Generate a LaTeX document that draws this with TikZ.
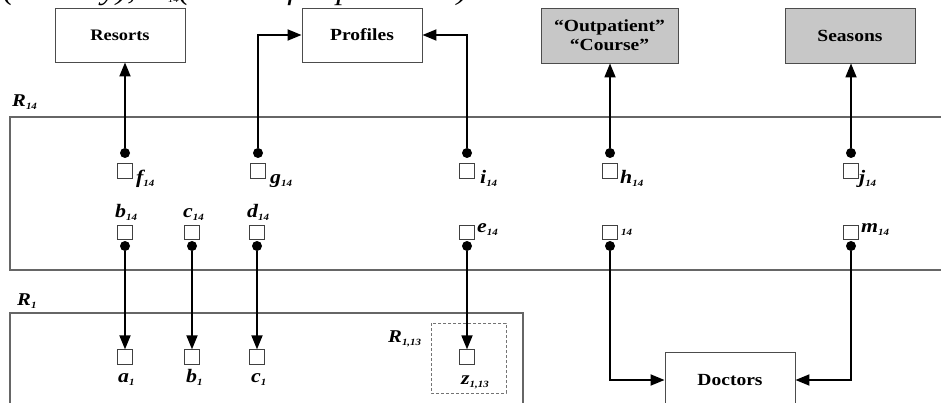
\documentclass[tikz,border=0pt]{standalone}
\usepackage{fontspec}
\setmainfont{Liberation Serif}[FakeStretch=1.15]
\usetikzlibrary{arrows.meta}
\newcommand\sbs[1]{\raisebox{-3pt}{\fontsize{9.5}{9.5}\selectfont #1}}
\tikzset{
  ent/.style={draw=black!70, line width=0.9pt, font=\fontsize{17}{19}\selectfont\bfseries,
    minimum width=130pt, minimum height=54pt, inner sep=0pt, align=center},
  grayent/.style={ent, fill=black!22},
  sq/.style={draw=black!75, line width=0.8pt, minimum size=14.5pt, inner sep=0pt},
  dotn/.style={circle, fill=black, minimum size=10pt, inner sep=0pt},
  conn/.style={line width=1.8pt, -{Triangle[length=14pt,width=11pt]}},
  lab/.style={font=\fontsize{19}{19}\selectfont\bfseries\itshape, inner sep=0pt, anchor=base west},
  rlab/.style={lab, font=\fontsize{18}{18}\selectfont\bfseries\itshape},
  band/.style={draw=black!60, line width=1.1pt},
  dashbox/.style={draw=black!55, line width=0.9pt, dash pattern=on 3pt off 2pt}
}
\begin{document}
\begin{tikzpicture}[x=1pt,y=-1pt]
\useasboundingbox[fill=white] (0,0) rectangle (941,403);

% clipped caption
\node[anchor=base west, inner sep=0pt, font=\fontsize{29}{29}\selectfont\itshape] (cap) at (3,0)
  {(Faculty), m\sbs{14}(Head of department).};

% regions
\draw[band] (945,117) -- (10,117) -- (10,270) -- (945,270);
\draw[band] (10,410) -- (10,313) -- (523,313) -- (523,410);
\draw[dashbox] (431,323) rectangle (506,393);
\node[rlab] (r14) at (12,107) {R\sbs{14}};
\node[rlab] (r1) at (17,305) {R\sbs{1}};
\node[rlab] (r113) at (388,342) {R\sbs{1,13}};

% entity boxes
\node[ent, font=\fontsize{16}{19}\selectfont\bfseries] (res) at (120,35) {Resorts};
\node[ent, minimum width=120pt] (pro) at (362,35) {Profiles};
\node[grayent, minimum width=137pt, minimum height=55pt] (out) at (609.5,35.5) {“Outpatient”\\“Course”};
\node[grayent, minimum height=55pt] (sea) at (850,35.5) {Seasons};
\node[ent, minimum height=56pt] (doc) at (730,380) {Doctors};

% upper row of R14
\foreach \n/\x in {f/125,g/258,i/467,h/610,j/851}{
  \node[sq] (\n s) at (\x,171) {};
  \node[dotn] (\n d) at (\x,153) {};
}
\node[lab] (fl) at (136,184) {f\sbs{14}};
\node[lab] (gl) at (270,184) {g\sbs{14}};
\node[lab] (il) at (480,184) {i\sbs{14}};
\node[lab] (hl) at (620,184) {h\sbs{14}};
\node[lab] (jl) at (859,184) {j\sbs{14}};

% lower row of R14
\foreach \n/\x in {b/125,c/192,d/257,e/467,k/610,m/851}{
  \node[sq] (\n s) at (\x,232.5) {};
  \node[dotn] (\n d) at (\x,246) {};
}
\node[lab] (bl) at (115,218) {b\sbs{14}};
\node[lab] (cl) at (183,218) {c\sbs{14}};
\node[lab] (dl) at (247,218) {d\sbs{14}};
\node[lab] (el) at (477,233) {e\sbs{14}};
\node[lab] (kl) at (621,233) {\sbs{14}};
\node[lab] (ml) at (861,233) {m\sbs{14}};

% R1 row
\foreach \n/\x in {a1/125,b1/192,c1/257,z1/467}{
  \node[sq] (\n s) at (\x,357) {};
}
\node[lab] (a1l) at (118,382) {a\sbs{1}};
\node[lab] (b1l) at (186,382) {b\sbs{1}};
\node[lab] (c1l) at (251,382) {c\sbs{1}};
\node[lab] (z1l) at (461,384) {z\sbs{1,13}};

% connectors
\draw[conn] (fd) -- (fd |- res.south);
\draw[conn] (gd) |- (pro.west);
\draw[conn] (id) |- (pro.east);
\draw[conn] (hd) -- (hd |- out.south);
\draw[conn] (jd) -- (jd |- sea.south);
\draw[conn] (bd) -- (a1s);
\draw[conn] (cd) -- (b1s);
\draw[conn] (dd) -- (c1s);
\draw[conn] (ed) -- (z1s);
\draw[conn] (kd) |- (doc.west);
\draw[conn] (md) |- (doc.east);
\end{tikzpicture}
\end{document}
